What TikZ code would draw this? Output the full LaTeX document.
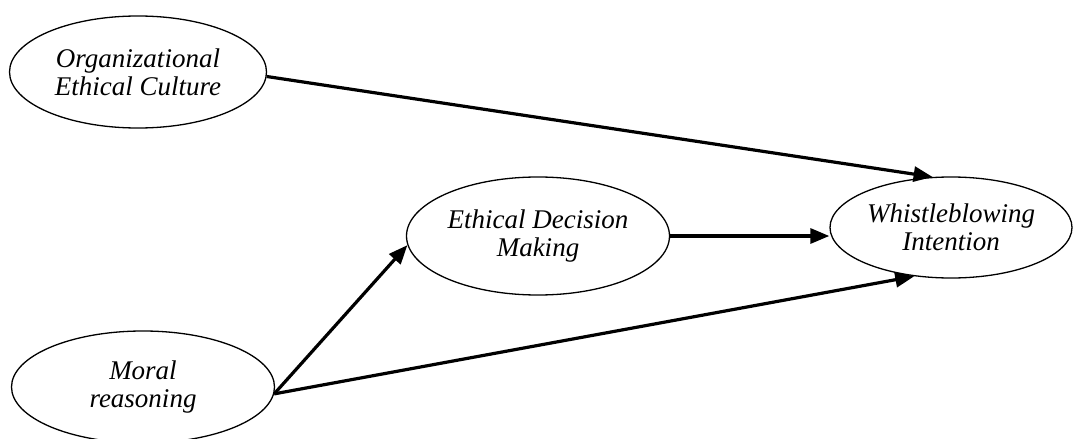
\documentclass[tikz,border=0pt]{standalone}
\usepackage{fontspec}
\setmainfont{Liberation Serif}
\usetikzlibrary{shapes.geometric,arrows.meta}

\begin{document}
\begin{tikzpicture}[x=1pt,y=-1pt,
  construct/.style={draw,ellipse,line width=1.3pt,inner sep=0pt,align=center,
    font=\fontsize{27}{28}\selectfont\itshape},
  effect/.style={line width=3.2pt,-{Triangle[length=19pt,width=15pt]}}]

  \useasboundingbox (0,0) rectangle (1074,439);

  \node[construct,minimum width=257pt,minimum height=112pt] (culture) at (138,72) {Organizational\\Ethical Culture};

  \node[construct,minimum width=263pt,minimum height=118pt] (decision) at (538,236) {Ethical Decision\\Making};

  \node[construct,minimum width=242pt,minimum height=101pt] (intention) at (951,227.5) {Whistleblowing\\Intention};

  \node[construct,minimum width=263pt,minimum height=112pt] (moral) at (143,387) {Moral\\reasoning};

  % paths into whistleblowing intention
  \draw[effect] (culture.358) -- (intention.110);
  \draw[effect] (decision.east) -- (intention.west |- decision.east);

  % paths out of moral reasoning
  \draw[effect] (moral.357) -- (decision.184);
  \draw[effect] (moral.357) -- (intention.233);

\end{tikzpicture}
\end{document}
